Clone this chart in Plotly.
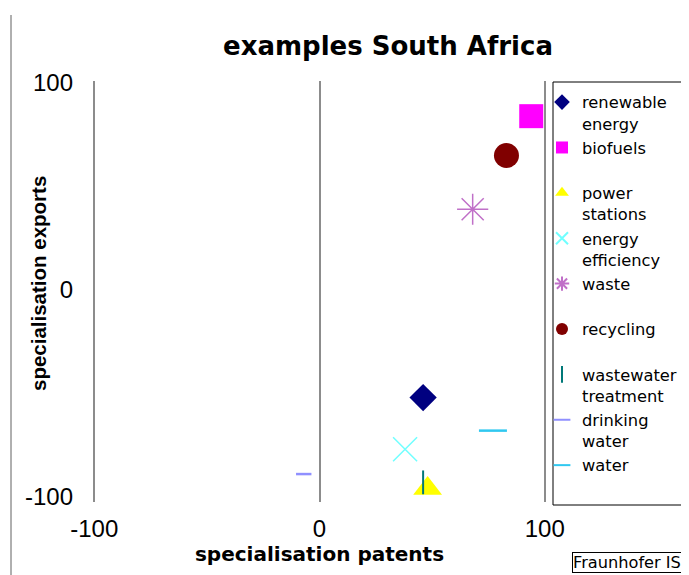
import plotly.graph_objects as go

# ---- data ----
fields = ["renewable energy", "biofuels", "power stations", "energy efficiency",
          "waste", "recycling", "wastewater treatment", "drinking water", "water"]
legend_labels = ["renewable<br>energy", "biofuels<br> ", "power<br>stations",
                 "energy<br>efficiency", "waste<br> ", "recycling<br> ",
                 "wastewater<br>treatment", "drinking<br>water", "water<br> "]
spec_patents = [46, 94, 48, 38, 68, 83, 46, -7, 77]
spec_exports = [-52, 84, -96, -77, 39, 65, -93, -89, -68]
x_ticks = [-100, 0, 100]
y_ticks = [-100, 0, 100]

# ---- styles ----
symbols = ["diamond", "square", "triangle-up", "x-thin-open", "asterisk-open",
           "circle", "line-ns-open", "line-ew-open", "line-ew-open"]
colors = ["#000080", "#FF00FF", "#FFFF00", "#70FFFF", "#C070C8",
          "#800000", "#007878", "#9090FF", "#30C8F0"]
sizes = [21, 24, 25, 24, 26, 25, 17, 11, 20]
line_widths = [0, 0, 0, 1.5, 1.5, 0, 2, 2.5, 2.5]

fig = go.Figure()
for i, name in enumerate(fields):
    fig.add_trace(go.Scatter(
        x=[spec_patents[i]], y=[spec_exports[i]],
        mode="markers", name=legend_labels[i], legendgroup=name,
        marker=dict(symbol=symbols[i], color=colors[i], size=sizes[i],
                    line=dict(width=line_widths[i], color=colors[i])),
        hovertext=[name], hoverinfo="text+x+y",
    ))

# page is 689x575; the figure div sits 8px in from the top-left (body margin)
PW, PH, OFF = 689, 575, 8
W, H = PW - OFF, PH - OFF
# plot area in page pixels
L, R, T, B = 92, 547, 81, 502
def px_x(p):
    return (p - L) / (R - L)
def px_y(p):
    return (B - p) / (B - T)

fig.update_layout(
    width=W, height=H,
    margin=dict(l=L - OFF, r=PW - R, t=T - OFF, b=PH - B, autoexpand=False),
    paper_bgcolor="white", plot_bgcolor="white",
    title=dict(text="examples South Africa", x=(388 - OFF) / W, xanchor="center",
               y=1 - (46 - OFF) / H, yanchor="middle",
               font=dict(family="DejaVu Sans", size=26, weight="bold", color="black")),
    showlegend=True,
    legend=dict(x=px_x(542), xanchor="left", y=px_y(85), yanchor="top",
                valign="top", tracegroupgap=0, itemsizing="constant",
                bgcolor="rgba(0,0,0,0)", borderwidth=0,
                font=dict(family="DejaVu Sans", size=16.3, color="black")),
    xaxis=dict(range=[-101, 101], tickvals=x_ticks, ticktext=[str(v) for v in x_ticks],
               automargin=False,
               showgrid=True, gridcolor="#8c8c8c", gridwidth=1.5,
               zeroline=True, zerolinecolor="#8c8c8c", zerolinewidth=1.5,
               showline=False, ticks="", ticklabelstandoff=10,
               tickfont=dict(family="Liberation Sans", size=24, color="black"),
               title=dict(text="specialisation patents", standoff=0,
                          font=dict(family="DejaVu Sans", size=20, weight="bold", color="black"))),
    yaxis=dict(range=[-102.5, 101], tickvals=y_ticks, ticktext=[str(v) for v in y_ticks],
               automargin=False,
               showgrid=False, zeroline=False, showline=False, ticks="",
               ticklabelstandoff=18,
               tickfont=dict(family="Liberation Sans", size=24, color="black")),
    shapes=[
        # outer frame line at left
        dict(type="line", xref="paper", yref="paper", x0=px_x(11), x1=px_x(11),
             y0=px_y(15), y1=px_y(580), line=dict(color="#606060", width=1)),
        # legend box
        dict(type="rect", xref="paper", yref="paper", x0=px_x(553), x1=px_x(700),
             y0=px_y(505), y1=px_y(82), line=dict(color="black", width=1)),
    ],
    annotations=[
        dict(text="specialisation exports", xref="paper", yref="paper",
             x=px_x(38), y=px_y(284), xanchor="center", yanchor="middle",
             textangle=-90, showarrow=False,
             font=dict(family="Liberation Sans", size=20.5, weight="bold", color="black")),
        dict(text="Fraunhofer IS", xref="paper", yref="paper", x=px_x(572), xanchor="left",
             y=px_y(562), yanchor="middle", showarrow=False,
             bordercolor="black", borderwidth=1, borderpad=0,
             font=dict(family="DejaVu Sans", size=16.2, color="black")),
    ],
)

fig.write_html("out.html")
